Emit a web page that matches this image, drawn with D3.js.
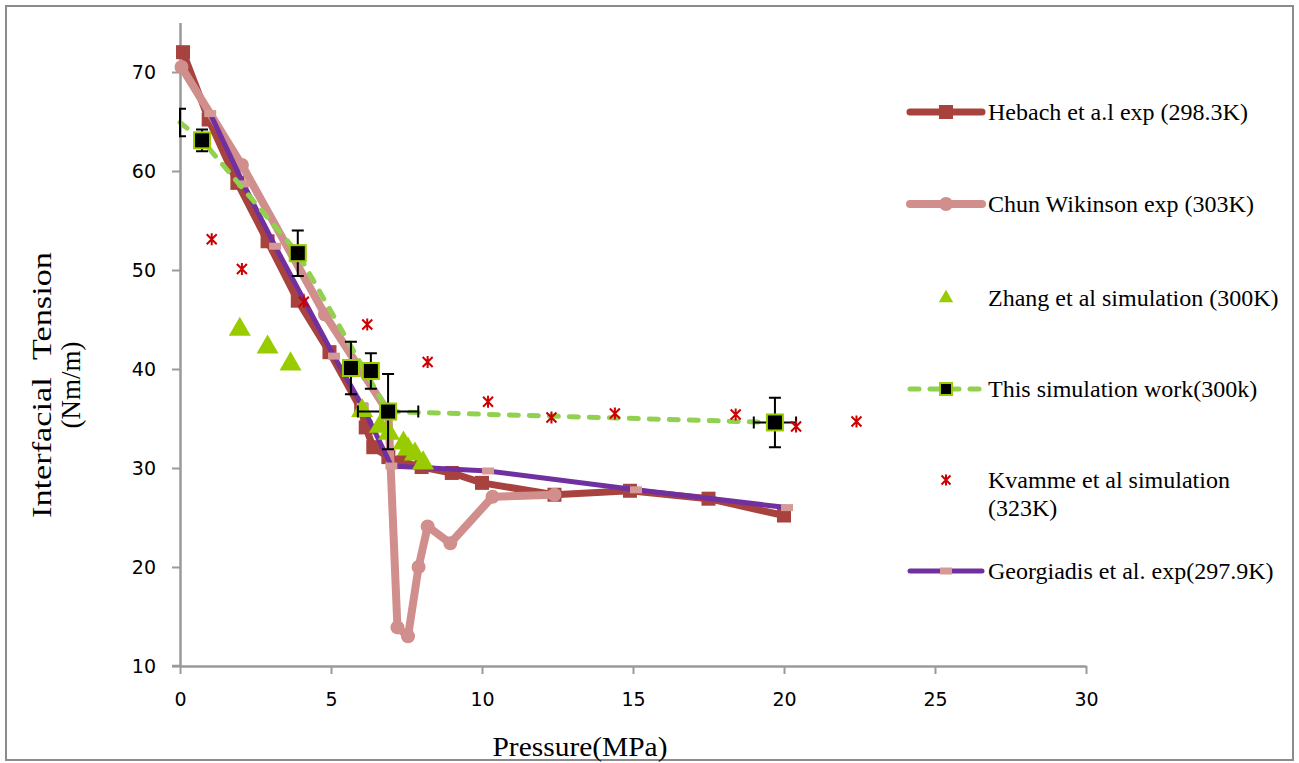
<!DOCTYPE html>
<html><head><meta charset="utf-8">
<script src="https://cdn.jsdelivr.net/npm/d3@7"></script>
<style>body{margin:0;background:#fff}svg{display:block}</style>
</head><body>
<svg id="chart" width="1299" height="763"></svg>
<script>
// ---------- data ----------
const xTicks = [0, 5, 10, 15, 20, 25, 30];
const yTicks = [10, 20, 30, 40, 50, 60, 70];

const hebachP   = [0.1, 0.95, 1.9, 2.9, 3.9, 4.95, 6.0, 6.15, 6.4, 6.9, 7.4, 8.0, 9.0, 10.0, 12.4, 14.9, 17.5, 20.0];
const hebachIFT = [72.0, 65.2, 58.8, 52.9, 46.9, 41.7, 35.9, 34.1, 32.1, 31.1, 30.6, 30.1, 29.5, 28.5, 27.3, 27.7, 26.9, 25.2];

const chunP   = [0.05, 2.05, 4.8, 6.9, 7.2, 7.55, 7.9, 8.2, 8.95, 10.35, 12.4];
const chunIFT = [70.5, 60.6, 45.5, 35.6, 13.9, 13.0, 20.0, 24.1, 22.4, 27.1, 27.3];

const zhangP   = [1.98, 2.9, 3.66, 6.03, 6.62, 6.92, 7.4, 7.55, 7.78, 8.05];
const zhangIFT = [44.1, 42.3, 40.6, 35.9, 34.3, 33.6, 32.6, 32.0, 31.5, 30.6];

const workP      = [0, 0.73, 3.9, 5.66, 6.32, 6.89, 19.7];
const workIFT    = [64.9, 63.1, 51.7, 40.1, 39.8, 35.7, 34.6];
const workYErr   = [1.4, 1.1, 2.3, 2.65, 1.8, 3.8, 2.5];
const workXErr   = [0, 0, 0, 0, 0, 1.0, 0.7];
const workOnLine = [true, true, true, false, false, true, true];
const workMarker = [false, true, true, true, true, true, true];

const kvammeP   = [1.05, 2.05, 4.1, 6.2, 8.2, 10.2, 12.3, 14.4, 18.4, 20.4, 22.4];
const kvammeIFT = [53.1, 50.1, 46.8, 44.5, 40.7, 36.7, 35.1, 35.5, 35.4, 34.2, 34.7];

const georgP   = [1.0, 2.1, 3.15, 5.1, 6.05, 7.0, 10.2, 15.1, 20.1];
const georgIFT = [65.8, 58.7, 52.4, 41.3, 36.2, 30.2, 29.7, 27.8, 26.0];

const legendLabels = [
  ["Hebach et a.l exp (298.3K)"],
  ["Chun Wikinson exp (303K)"],
  ["Zhang et al simulation (300K)"],
  ["This simulation work(300k)"],
  ["Kvamme et al simulation", "(323K)"],
  ["Georgiadis et al. exp(297.9K)"]
];

// ---------- styles ----------
const C = {
  hebach: "#A8423F", chun: "#D08E8C", zhang: "#99CC00", workLine: "#92D050",
  workEdge: "#99CC00", kvamme: "#CC0000", georg: "#7030A0", georgMark: "#D59A96",
  axis: "#9A9A9A", border: "#8C8C8C"
};

const svg = d3.select("#chart");
const x = d3.scaleLinear().domain([0, 30]).range([180, 1086]);
const y = d3.scaleLinear().domain([10, 75]).range([666, 22.5]);

// outer border
svg.append("rect").attr("x", 6).attr("y", 6).attr("width", 1287).attr("height", 754)
  .attr("fill", "none").attr("stroke", C.border).attr("stroke-width", 2);

// ---------- axes ----------
const gx = svg.append("g").attr("transform", "translate(0,666)")
  .call(d3.axisBottom(x).tickValues(xTicks).tickSize(8).tickSizeOuter(0).tickPadding(19));
const gy = svg.append("g").attr("transform", "translate(180,0)")
  .call(d3.axisLeft(y).tickValues(yTicks).tickSize(8).tickSizeOuter(0).tickPadding(16));
[gx, gy].forEach(g => {
  g.select(".domain").attr("stroke", C.axis).attr("stroke-width", 2.5);
  g.selectAll(".tick line").attr("stroke", C.axis).attr("stroke-width", 2);
  g.selectAll("text").attr("font-family", "DejaVu Sans, sans-serif").attr("font-size", 19).attr("fill", "#000");
});
gy.selectAll("text").attr("dy", "0.35em");
svg.append("line").attr("x1", 172).attr("x2", 180).attr("y1", 666).attr("y2", 666)
  .attr("stroke", C.axis).attr("stroke-width", 2.5);

// axis titles
const serif = "Liberation Serif, Times New Roman, serif";
svg.append("text").attr("x", 580).attr("y", 756).attr("text-anchor", "middle")
  .attr("font-family", serif).attr("font-size", 27)
  .attr("textLength", 175).attr("lengthAdjust", "spacingAndGlyphs").text("Pressure(MPa)");
const yt = svg.append("g").attr("transform", "translate(51,385) rotate(-90)");
yt.append("text").attr("x", 0).attr("y", 0).attr("text-anchor", "middle")
  .attr("font-family", serif).attr("font-size", 27)
  .attr("textLength", 266).attr("lengthAdjust", "spacingAndGlyphs")
  .text("Interfacial\u00a0\u00a0Tension");
yt.append("text").attr("x", 0).attr("y", 29).attr("text-anchor", "middle")
  .attr("font-family", serif).attr("font-size", 27).text("(Nm/m)");

// ---------- helpers ----------
const zip = (a, b) => a.map((v, i) => [v, b[i]]);
const line = d3.line().x(d => x(d[0])).y(d => y(d[1]));
const asterisk = s => `M${-s},${-s}L${s},${s}M${s},${-s}L${-s},${s}M0,${-s * 1.2}L0,${s * 1.2}`;
const tri = d3.symbol().type(d3.symbolTriangle).size(210);

// ---------- series ----------
// Hebach
const heb = zip(hebachP, hebachIFT);
svg.append("path").attr("d", line(heb)).attr("fill", "none").attr("stroke", C.hebach)
  .attr("stroke-width", 7).attr("stroke-linejoin", "round").attr("stroke-linecap", "round");
svg.append("g").selectAll("rect").data(heb).join("rect")
  .attr("x", d => x(d[0]) - 7).attr("y", d => y(d[1]) - 7).attr("width", 14).attr("height", 14)
  .attr("fill", C.hebach);

// Chun
const chun = zip(chunP, chunIFT);
svg.append("path").attr("d", line(chun)).attr("fill", "none").attr("stroke", C.chun)
  .attr("stroke-width", 8).attr("stroke-linejoin", "round").attr("stroke-linecap", "round");
svg.append("g").selectAll("circle").data(chun).join("circle")
  .attr("cx", d => x(d[0])).attr("cy", d => y(d[1])).attr("r", 7).attr("fill", C.chun);

// Georgiadis
const geo = zip(georgP, georgIFT);
svg.append("path").attr("d", line(geo)).attr("fill", "none").attr("stroke", C.georg)
  .attr("stroke-width", 5).attr("stroke-linejoin", "round").attr("stroke-linecap", "round");
svg.append("g").selectAll("rect").data(geo).join("rect")
  .attr("x", d => x(d[0]) - 6).attr("y", d => y(d[1]) - 3.5).attr("width", 12).attr("height", 7)
  .attr("fill", C.georgMark);

// Zhang
svg.append("g").selectAll("path").data(zip(zhangP, zhangIFT)).join("path")
  .attr("transform", d => `translate(${x(d[0])},${y(d[1]) + 1})`).attr("d", tri).attr("fill", C.zhang);

// This work
const work = workP.map((p, i) => ({p, v: workIFT[i], ye: workYErr[i], xe: workXErr[i], onLine: workOnLine[i], mk: workMarker[i]}));
svg.append("path").attr("d", line(work.filter(d => d.onLine).map(d => [d.p, d.v])))
  .attr("fill", "none").attr("stroke", C.workLine).attr("stroke-width", 5)
  .attr("stroke-dasharray", "9,11").attr("stroke-linecap", "round");
svg.append("clipPath").attr("id", "plotclip").append("rect")
  .attr("x", 179).attr("y", 0).attr("width", 1000).attr("height", 763);
const eb = svg.append("g").attr("clip-path", "url(#plotclip)")
  .attr("stroke", "#000").attr("stroke-width", 2).attr("fill", "none");
work.forEach(d => {
  const cx = x(d.p), cy = y(d.v), t = y(d.v + d.ye), b = y(d.v - d.ye);
  eb.append("path").attr("d", `M${cx},${t}L${cx},${b}M${cx - 6},${t}L${cx + 6},${t}M${cx - 6},${b}L${cx + 6},${b}`);
  if (d.xe > 0) {
    const l = x(d.p - d.xe), r = x(d.p + d.xe);
    eb.append("path").attr("d", `M${l},${cy}L${r},${cy}M${l},${cy - 6}L${l},${cy + 6}M${r},${cy - 6}L${r},${cy + 6}`);
  }
});
svg.append("g").selectAll("rect").data(work.filter(d => d.mk)).join("rect")
  .attr("x", d => x(d.p) - 8).attr("y", d => y(d.v) - 8).attr("width", 16).attr("height", 16)
  .attr("fill", "#000").attr("stroke", C.workEdge).attr("stroke-width", 2);

// Kvamme
svg.append("g").selectAll("path").data(zip(kvammeP, kvammeIFT)).join("path")
  .attr("transform", d => `translate(${x(d[0])},${y(d[1])})`).attr("d", asterisk(5))
  .attr("stroke", C.kvamme).attr("stroke-width", 2).attr("fill", "none");

// ---------- legend ----------
const lg = svg.append("g");
const rowsY = [112, 204, 298, 389, 480, 571];
const lx1 = 910, lx2 = 982, mx = 946, tx = 988;
legendLabels.forEach((lines, i) => {
  const t = lg.append("text").attr("x", tx).attr("y", rowsY[i] + 8)
    .attr("font-family", serif).attr("font-size", 24).attr("fill", "#000");
  lines.forEach((s, j) => t.append("tspan").attr("x", tx).attr("dy", j === 0 ? 0 : 28).text(s));
});
lg.append("line").attr("x1", lx1).attr("x2", lx2).attr("y1", rowsY[0]).attr("y2", rowsY[0])
  .attr("stroke", C.hebach).attr("stroke-width", 7).attr("stroke-linecap", "round");
lg.append("rect").attr("x", mx - 7).attr("y", rowsY[0] - 7).attr("width", 14).attr("height", 14).attr("fill", C.hebach);
lg.append("line").attr("x1", lx1).attr("x2", lx2).attr("y1", rowsY[1]).attr("y2", rowsY[1])
  .attr("stroke", C.chun).attr("stroke-width", 8).attr("stroke-linecap", "round");
lg.append("circle").attr("cx", mx).attr("cy", rowsY[1]).attr("r", 7).attr("fill", C.chun);
lg.append("path").attr("transform", `translate(${mx},${rowsY[2]})`)
  .attr("d", d3.symbol().type(d3.symbolTriangle).size(90)).attr("fill", C.zhang);
lg.append("line").attr("x1", lx1).attr("x2", lx2).attr("y1", rowsY[3]).attr("y2", rowsY[3])
  .attr("stroke", C.workLine).attr("stroke-width", 5).attr("stroke-dasharray", "9,11").attr("stroke-linecap", "round");
lg.append("rect").attr("x", mx - 6).attr("y", rowsY[3] - 6).attr("width", 12).attr("height", 12)
  .attr("fill", "#000").attr("stroke", C.workEdge).attr("stroke-width", 2);
lg.append("path").attr("transform", `translate(${mx},${rowsY[4]})`).attr("d", asterisk(4.5))
  .attr("stroke", C.kvamme).attr("stroke-width", 2).attr("fill", "none");
lg.append("line").attr("x1", lx1).attr("x2", lx2).attr("y1", rowsY[5]).attr("y2", rowsY[5])
  .attr("stroke", C.georg).attr("stroke-width", 5).attr("stroke-linecap", "round");
lg.append("rect").attr("x", mx - 6).attr("y", rowsY[5] - 3.5).attr("width", 12).attr("height", 7).attr("fill", C.georgMark);
</script>
</body></html>
